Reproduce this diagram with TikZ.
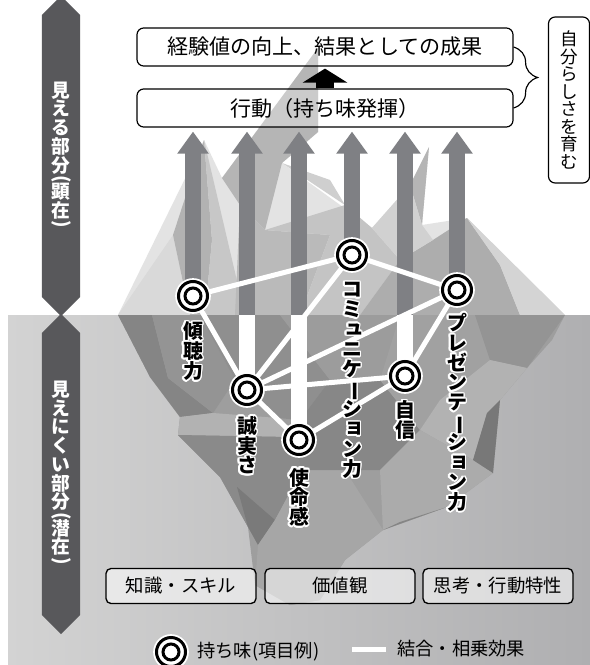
\documentclass[tikz,border=0pt]{standalone}
\usepackage{fontspec}
\usepackage{graphicx}
\setmainfont{Noto Sans CJK JP}
\usepackage{contour}
\contourlength{1.3pt}
\usetikzlibrary{arrows.meta,positioning,shapes.symbols,decorations.pathreplacing,backgrounds}
\definecolor{flowgray}{HTML}{7F8084}
\definecolor{bandgray}{HTML}{58585B}
\definecolor{seatop}{HTML}{D3D3D3}
\definecolor{seadeep}{HTML}{AFAFB1}
\newcommand\stack[1]{\vbox{\baselineskip=1em\lineskiplimit=-\maxdimen\halign{\hfil##\hfil\cr#1\crcr}}}
\newcommand\longbar{\rotatebox[origin=c]{-90}{ー}}
\newcommand\smallk[1]{\kern0.2em\raisebox{0.12em}{#1}}
\newcommand\vopen{\noalign{\kern-0.3em}\rotatebox[origin=c]{-90}{(}\cr\noalign{\kern-0.3em}}
\newcommand\vclose{\noalign{\kern-0.3em}\rotatebox[origin=c]{-90}{)}\cr}
\begin{document}
\begin{tikzpicture}[x=0.03cm,y=-0.03cm,
  flow/.style={draw=flowgray,line width=0.48cm,-{Triangle[width=0.9cm,length=0.66cm]},shorten >=0.12cm},
  sunk/.style={draw=white,line width=0.48cm},
  bond/.style={draw=white,line width=0.15cm},
  lift/.style={draw=black,line width=0.54cm,-{Triangle[width=1.32cm,length=0.42cm]},shorten >=0.06cm},
  gem/.style={circle,draw=black,fill=white,line width=0.09cm,minimum size=0.87cm,inner sep=0pt,
    preaction={draw=white,line width=0.2cm},
    path picture={\draw[line width=0.09cm] (path picture bounding box.center) circle (0.24cm);}},
  tag/.style={inner sep=0pt,font=\bfseries\fontsize{17pt}{17pt}\selectfont},
  stage/.style={draw,rounded corners=0.2cm,line width=0.035cm,minimum width=11.28cm,minimum height=1.14cm,
    fill=white,fill opacity=0.3,text opacity=1,font=\fontsize{18pt}{18pt}\selectfont},
  trait/.style={draw,rounded corners=0.15cm,line width=0.04cm,minimum width=4.5cm,minimum height=1.05cm,
    fill=white,fill opacity=0.55,text opacity=1,font=\fontsize{15.7pt}{15.7pt}\selectfont},
  band/.style={signal,signal to=north and south,fill=bandgray,text=white,minimum height=9.06cm,
    minimum width=1.14cm,inner sep=0pt,font=\bfseries\fontsize{16pt}{16pt}\selectfont},
  aside/.style={draw,rounded corners=0.2cm,line width=0.035cm,minimum height=4.98cm,
    minimum width=1.23cm,font=\fontsize{15pt}{15pt}\selectfont},
  key/.style={inner sep=0pt,font=\fontsize{15.6pt}{15.6pt}\selectfont}]
\useasboundingbox (0,0) rectangle (590,665);

\node[stage] (result) at (325,47) {経験値の向上、結果としての成果};
\node[stage] (act) at (325,108) {行動（持ち味発揮）};
\draw[lift] (act.north) -- (result.south);
\draw[decorate,decoration={brace,amplitude=0.72cm},line width=0.035cm] (result.east) -- (act.east);
\node[aside] (self) at (569,100) {\stack{自\cr 分\cr ら\cr し\cr さ\cr を\cr 育\cr む}};

\node[band] (seen) at (61,156) {\stack{見\cr え\cr る\cr 部\cr 分\cr\vopen 顕\cr 在\cr\vclose}};
\node[band] (hidden) at (61,474) {\stack{見\cr え\cr に\cr く\cr い\cr 部\cr 分\cr\vopen 潜\cr 在\cr\vclose}};

\coordinate (waterline) at (0,315);
\node[gem] (listen) at (193,296) {};
\node[gem] (comm) at (352,255) {};
\node[gem] (pres) at (457,290) {};
\node[gem] (sincere) at (247,390) {};
\node[gem] (mission) at (299,440) {};
\node[gem] (conf) at (405,376) {};

\node[tag] (listentag) at (193,352) {\contour{white}{\stack{傾\cr 聴\cr 力}}};
\node[tag] (commtag) at (352,381) {\contour{white}{\stack{コ\cr ミ\cr\smallk{ュ}\cr ニ\cr ケ\cr\longbar\cr シ\cr\smallk{ョ}\cr ン\cr 力}}};
\node[tag] (prestag) at (457,413) {\contour{white}{\stack{プ\cr レ\cr ゼ\cr ン\cr テ\cr\longbar\cr シ\cr\smallk{ョ}\cr ン\cr 力}}};
\node[tag] (sinceretag) at (247,446) {\contour{white}{\stack{誠\cr 実\cr さ}}};
\node[tag] (missiontag) at (299,498) {\contour{white}{\stack{使\cr 命\cr 感}}};
\node[tag] (conftag) at (405,421) {\contour{white}{\stack{自\cr 信}}};

\node[trait] (skill) at (181,586) {知識・スキル};
\node[trait] (value) at (340,586) {価値観};
\node[trait] (habit) at (498,586) {思考・行動特性};

\node[gem] (keygem) at (171,652) {};
\node[key,right=0.3cm of keygem] (keytext) {持ち味(項目例)};
\coordinate (keya) at (352,649);
\coordinate (keyb) at (386,649);
\node[key,right=0.33cm of keyb] (keybond) {結合・相乗効果};

\begin{scope}[on background layer]
\fill[white] (0,0) rectangle (590,665);
\shade[left color=seatop,right color=seadeep] (8,315) rectangle (590,665);

\fill[black!11] (118,315) -- (204,140) -- (222,178) -- (318,48) -- (318,132) -- (282,163) -- (372,228)
  -- (410,185) -- (429,147) -- (422,225) -- (467,218) -- (565,315) -- cycle;
\fill[black!15] (118,315) -- (173,235) -- (190,315) -- cycle;
\fill[black!30] (173,235) -- (204,140) -- (212,240) -- (205,315) -- (190,315) -- cycle;
\fill[black!22] (204,140) -- (245,315) -- (205,315) -- (212,240) -- cycle;
\fill[black!29] (222,178) -- (318,48) -- (318,132) -- (282,163) -- (265,230) -- (240,205) -- cycle;
\fill[black!19] (282,163) -- (330,180) -- (345,205) -- cycle;
\fill[black!27] (240,205) -- (265,230) -- (330,235) -- (300,315) -- (235,315) -- cycle;
\fill[black!23] (265,230) -- (345,205) -- (372,228) -- (400,260) -- (360,315) -- (300,315) -- (330,235) -- cycle;
\fill[black!32] (360,315) -- (400,260) -- (433,240) -- (467,218) -- (500,265) -- (520,315) -- cycle;
\fill[black!17] (467,218) -- (565,315) -- (520,315) -- (500,265) -- cycle;
\fill[black!29] (429,147) -- (410,185) -- (422,225) -- cycle;
\fill[black!18] (372,228) -- (410,185) -- (422,225) -- (433,240) -- (400,260) -- cycle;

\fill[black!38] (118,315) -- (565,315) -- (552,340) -- (527,368) -- (500,400) -- (493,473) -- (447,507)
  -- (383,530) -- (345,560) -- (320,600) -- (290,605) -- (255,585) -- (248,527) -- (220,477)
  -- (178,435) -- (180,417) -- (150,377) -- cycle;
\fill[black!48] (118,315) -- (152,315) -- (168,378) -- (213,413) -- (180,417) -- (150,377) -- cycle;
\fill[black!42] (152,315) -- (200,315) -- (235,380) -- (213,413) -- (168,378) -- cycle;
\fill[black!30] (180,417) -- (213,413) -- (278,418) -- (290,437) -- (178,435) -- cycle;
\fill[black!46] (178,435) -- (290,437) -- (302,470) -- (275,520) -- (248,527) -- (220,477) -- cycle;
\fill[black!52] (237,487) -- (275,520) -- (258,545) -- (248,527) -- cycle;
\fill[black!35] (302,470) -- (345,470) -- (383,530) -- (345,560) -- (320,600) -- (290,605) -- (255,585)
  -- (258,545) -- (275,520) -- cycle;
\fill[black!44] (200,315) -- (280,315) -- (330,380) -- (300,420) -- (278,418) -- (235,380) -- cycle;
\fill[black!39] (280,315) -- (400,315) -- (380,380) -- (330,380) -- cycle;
\fill[black!47] (330,380) -- (380,380) -- (420,430) -- (380,470) -- (302,470) -- (290,437) -- (300,420) -- cycle;
\fill[black!37] (400,315) -- (475,315) -- (490,360) -- (440,400) -- (420,430) -- (380,380) -- cycle;
\fill[black!42] (475,315) -- (565,315) -- (527,368) -- (490,360) -- cycle;
\fill[black!30] (440,400) -- (490,360) -- (527,368) -- (500,400) -- (487,413) -- (473,460) -- (420,430) -- cycle;
\fill[black!33] (420,430) -- (473,460) -- (493,473) -- (447,507) -- (383,530) -- (380,470) -- cycle;
\fill[black!53] (487,413) -- (500,400) -- (493,473) -- (473,460) -- cycle;
\fill[black!48] (383,530) -- (447,507) -- (400,522) -- cycle;

\draw[flow] (listen) -- (listen |- act.south);
\draw[flow] (sincere) -- (sincere |- act.south);
\draw[flow] (mission) -- (mission |- act.south);
\draw[flow] (comm) -- (comm |- act.south);
\draw[flow] (conf) -- (conf |- act.south);
\draw[flow] (pres) -- (pres |- act.south);
\draw[sunk] (sincere) -- (sincere |- waterline);
\draw[sunk] (mission) -- (mission |- waterline);
\draw[sunk] (conf) -- (conf |- waterline);

\draw[bond] (listen) -- (comm);
\draw[bond] (listen) -- (sincere);
\draw[bond] (comm) -- (pres);
\draw[bond] (sincere) -- (comm);
\draw[bond] (sincere) -- (pres);
\draw[bond] (sincere) -- (conf);
\draw[bond] (sincere) -- (mission);
\draw[bond] (mission) -- (conf);
\draw[bond] (conf) -- (pres);
\draw[bond] (keya) -- (keyb);
\end{scope}
\end{tikzpicture}
\end{document}
